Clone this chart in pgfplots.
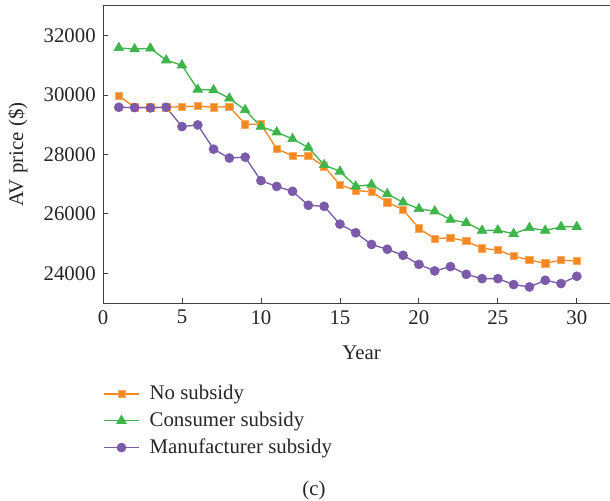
\documentclass[border=0pt]{standalone}
\usepackage{pgfplots}
\pgfplotsset{compat=1.18}
\usepackage{fontspec}
\setmainfont{Liberation Serif}
\definecolor{cOr}{HTML}{F5871F}
\definecolor{cGr}{HTML}{3DB54A}
\definecolor{cPu}{HTML}{7B5BA9}
\begin{document}
\fontsize{12.5}{15}\selectfont
\begin{tikzpicture}
\useasboundingbox (0,0) rectangle (366pt,300pt);
\begin{axis}[
  at={(61.8pt,118.2pt)}, anchor=south west,
  scale only axis, width=304.2pt, height=178.2pt,
  xmin=0, xmax=32.1, ymin=23000, ymax=33000,
  axis x line=bottom, axis y line=left,
  axis line style={-, line width=0.6pt, draw=black!75},
  xtick={0,5,...,30}, ytick={24000,26000,...,32000},
  scaled y ticks=false,
  tick align=inside, major tick length=3pt,
  tick style={black!75, line width=0.5pt},
  /pgf/number format/1000 sep={},
  /pgf/number format/assume math mode=true,
  font=\fontsize{12.5}{15}\selectfont,
  xticklabel style={text=black!85},
  yticklabel style={text=black!85},
  xlabel={Year}, ylabel={AV price (\$)},
  xlabel style={at={(axis description cs:0.51,-0.168)}, anchor=center, text=black!85},
  ylabel style={at={(axis description cs:-0.168,0.5)}, anchor=center, text=black!85},
  legend style={at={(axis description cs:0,-0.27)}, anchor=north west, draw=none, fill=none,
    inner sep=0pt, row sep=3.5pt, font=\fontsize{12.5}{15}\selectfont, text=black!85,
    nodes={inner sep=1pt}},
  legend cell align=left,
  legend image code/.code={\draw[mark repeat=2,mark phase=2,#1] plot coordinates {(0pt,0pt)(10.5pt,0pt)(21pt,0pt)};},
  every axis legend/.append style={/tikz/every odd column/.append style={column sep=5pt}},
  every axis plot/.append style={line width=0.8pt},
  clip=false,
]
\draw[line width=0.6pt, draw=black!75] (axis description cs:0,1) -- (axis description cs:1,1);
\addplot[color=cOr, mark=square*, mark size=2.2pt, mark options={fill=cOr, draw=cOr!70!white, line width=0.4pt}] coordinates {
(1,29980)(2,29590)(3,29590)(4,29590)(5,29610)(6,29630)(7,29590)(8,29610)(9,29020)(10,29020)
(11,28190)(12,27955)(13,27955)(14,27600)(15,26980)(16,26790)(17,26740)(18,26390)(19,26145)(20,25510)
(21,25170)(22,25195)(23,25085)(24,24840)(25,24780)(26,24580)(27,24445)(28,24335)(29,24445)(30,24410)};
\addlegendentry{No subsidy}
\addplot[color=cGr, mark=triangle*, mark size=3.3pt, mark options={fill=cGr, line width=0.4pt}] coordinates {
(1,31590)(2,31550)(3,31575)(4,31175)(5,31005)(6,30190)(7,30170)(8,29890)(9,29500)(10,28940)
(11,28750)(12,28525)(13,28235)(14,27650)(15,27430)(16,26930)(17,26985)(18,26670)(19,26390)(20,26170)
(21,26090)(22,25810)(23,25700)(24,25440)(25,25450)(26,25330)(27,25530)(28,25440)(29,25565)(30,25565)};
\addlegendentry{Consumer subsidy}
\addplot[color=cPu, mark=*, mark size=2.7pt, mark options={fill=cPu, line width=0.4pt}] coordinates {
(1,29590)(2,29580)(3,29570)(4,29590)(5,28940)(6,28995)(7,28180)(8,27880)(9,27910)(10,27120)
(11,26925)(12,26760)(13,26290)(14,26255)(15,25655)(16,25365)(17,24970)(18,24810)(19,24605)(20,24300)
(21,24080)(22,24225)(23,23965)(24,23820)(25,23820)(26,23620)(27,23540)(28,23765)(29,23655)(30,23900)};
\addlegendentry{Manufacturer subsidy}
\end{axis}
\node[text=black!85, font=\fontsize{12.5}{15}\selectfont] at (188.4pt,6pt) {(c)};
\end{tikzpicture}
\end{document}
